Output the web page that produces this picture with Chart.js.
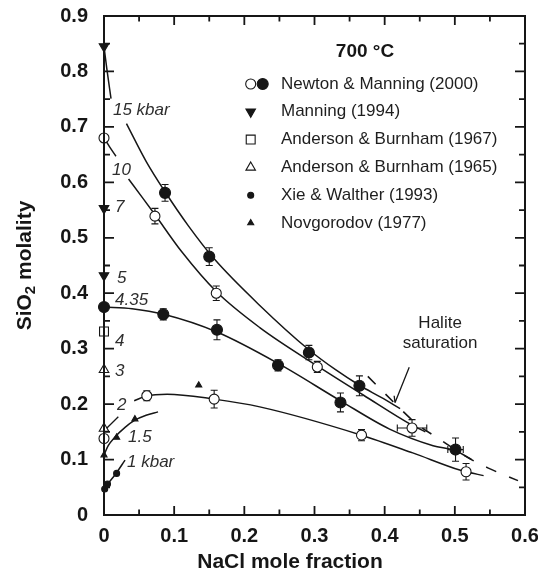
<!DOCTYPE html>
<html><head><meta charset="utf-8">
<script src="https://cdn.jsdelivr.net/npm/chart.js@4.4.1/dist/chart.umd.min.js"></script>
<style>html,body{margin:0;padding:0;background:#fff;}#wrap{width:538px;height:575px;}</style>
</head><body><div id="wrap"><canvas id="c" width="538" height="575"></canvas></div>
<script>
// ---------- data ----------
const xTickValues = [0, 0.1, 0.2, 0.3, 0.4, 0.5, 0.6];
const yTickValues = [0, 0.1, 0.2, 0.3, 0.4, 0.5, 0.6, 0.7, 0.8, 0.9];

// Newton & Manning (2000) open circles
const nmOpenX    = [0, 0.0726, 0.160, 0.304, 0.439, 0, 0.061, 0.157, 0.367, 0.516];
const nmOpenY    = [0.680, 0.539, 0.400, 0.267, 0.157, 0.138, 0.215, 0.209, 0.144, 0.078];
const nmOpenErrY = [0, 0.014, 0.013, 0.010, 0.015, 0, 0.009, 0.016, 0.010, 0.015];
const nmOpenErrX = [0, 0, 0, 0, 0.021, 0, 0, 0, 0, 0];
// Newton & Manning (2000) filled circles
const nmFillX    = [0.087, 0.150, 0.292, 0.364, 0, 0.0845, 0.161, 0.248, 0.337, 0.501];
const nmFillY    = [0.581, 0.466, 0.293, 0.233, 0.375, 0.362, 0.334, 0.270, 0.203, 0.118];
const nmFillErrY = [0.015, 0.016, 0.013, 0.018, 0, 0.010, 0.018, 0.010, 0.017, 0.021];
const nmFillErrX = [0, 0, 0, 0, 0, 0, 0, 0, 0, 0.011];
// Manning (1994)
const manX = [0, 0, 0];
const manY = [0.845, 0.553, 0.432];
// Anderson & Burnham (1967)
const ab67X = [0];
const ab67Y = [0.331];
// Anderson & Burnham (1965)
const ab65X = [0, 0];
const ab65Y = [0.262, 0.156];
// Xie & Walther (1993)
const xwX = [0.001, 0.005, 0.018];
const xwY = [0.047, 0.056, 0.075];
// Novgorodov (1977)
const novX = [0, 0.018, 0.044, 0.135];
const novY = [0.108, 0.140, 0.173, 0.234];

// fitted isobars
const c15aX = [0, 0.004, 0.010];
const c15aY = [0.845, 0.805, 0.751];
const c15bX = [0.032, 0.060, 0.087, 0.120, 0.157, 0.222, 0.292, 0.330, 0.364, 0.395, 0.422];
const c15bY = [0.706, 0.638, 0.583, 0.522, 0.462, 0.378, 0.298, 0.262, 0.234, 0.212, 0.192];
const c10aX = [0, 0.008, 0.017];
const c10aY = [0.680, 0.664, 0.647];
const c10bX = [0.035, 0.055, 0.073, 0.110, 0.160, 0.222, 0.305, 0.370, 0.439, 0.458];
const c10bY = [0.606, 0.572, 0.541, 0.476, 0.403, 0.338, 0.268, 0.216, 0.162, 0.150];
const c435X = [0, 0.040, 0.085, 0.161, 0.250, 0.337, 0.407, 0.469, 0.501, 0.524];
const c435Y = [0.375, 0.372, 0.362, 0.330, 0.272, 0.206, 0.155, 0.125, 0.116, 0.100];
const c2X = [0.043, 0.061, 0.090, 0.157, 0.222, 0.367, 0.440, 0.507, 0.516, 0.541];
const c2Y = [0.206, 0.215, 0.218, 0.209, 0.195, 0.144, 0.112, 0.081, 0.078, 0.071];
const c15X = [0, 0.006, 0.016, 0.030, 0.044, 0.060, 0.077];
const c15Y = [0.108, 0.125, 0.141, 0.158, 0.171, 0.180, 0.186];
const c1X = [0, 0.005, 0.016, 0.030];
const c1Y = [0.045, 0.055, 0.073, 0.099];
// halite saturation (dashed)
const halX = [0.376, 0.410, 0.445, 0.478, 0.518, 0.547, 0.590];
const halY = [0.250, 0.207, 0.165, 0.137, 0.104, 0.085, 0.062];

// isobar labels
const isoText = ['15 kbar', '10', '7', '5', '4.35', '4', '3', '2', '1.5', '1 kbar'];
const isoX = [0.0128, 0.0114, 0.0157, 0.0185, 0.0157, 0.0157, 0.0157, 0.0185, 0.0342, 0.0328];
const isoY = [0.7305, 0.6223, 0.5556, 0.4275, 0.3878, 0.3139, 0.2597, 0.1984, 0.1407, 0.0956];

const legendNames = ['Newton & Manning (2000)', 'Manning (1994)', 'Anderson & Burnham (1967)',
  'Anderson & Burnham (1965)', 'Xie & Walther (1993)', 'Novgorodov (1977)'];

// ---------- helpers ----------
const FONT = "'Liberation Sans', Arial, Helvetica, sans-serif";
const INK = '#161616';
const pts = (xs, ys) => xs.map((x, i) => ({x: x, y: ys[i]}));
function curve(xs, ys, dash) {
  return {type: 'line', data: pts(xs, ys), borderColor: INK, borderWidth: dash ? 1.6 : 1.5,
    borderDash: dash || [], pointRadius: 0, fill: false, cubicInterpolationMode: 'monotone',
    clip: false, order: 5};
}
function markers(xs, ys, style, r, bg, rot) {
  return {type: 'scatter', data: pts(xs, ys), pointStyle: style, pointRadius: r,
    pointBackgroundColor: bg, pointBorderColor: INK, pointBorderWidth: 1.1,
    pointRotation: rot || 0, showLine: false, clip: false, order: 1};
}

const datasets = [
  curve(c15aX, c15aY), curve(c15bX, c15bY), curve(c10aX, c10aY), curve(c10bX, c10bY),
  curve(c435X, c435Y), curve(c2X, c2Y), curve(c15X, c15Y), curve(c1X, c1Y),
  curve(halX, halY, [11, 14]),
  markers(nmOpenX, nmOpenY, 'circle', 5, '#ffffff'),
  markers(nmFillX, nmFillY, 'circle', 5.5, INK),
  markers(manX, manY, 'triangle', 5.5, INK, 180),
  markers(ab67X, ab67Y, 'rect', 6.3, '#ffffff'),
  markers(ab65X, ab65Y, 'triangle', 5.5, '#ffffff'),
  markers(xwX, xwY, 'circle', 3, INK),
  markers(novX, novY, 'triangle', 3.5, INK)
];

const decor = {
  id: 'decor',
  beforeDatasetsDraw(chart) {
    const {ctx, scales: {x, y}} = chart;
    ctx.save();
    ctx.strokeStyle = INK; ctx.lineWidth = 1.1;
    const bars = (xs, ys, ey, ex) => {
      xs.forEach((xv, i) => {
        const px = x.getPixelForValue(xv), py = y.getPixelForValue(ys[i]);
        if (ey[i]) {
          const t = y.getPixelForValue(ys[i] + ey[i]), b = y.getPixelForValue(ys[i] - ey[i]);
          ctx.beginPath(); ctx.moveTo(px, t); ctx.lineTo(px, b);
          ctx.moveTo(px - 3.5, t); ctx.lineTo(px + 3.5, t);
          ctx.moveTo(px - 3.5, b); ctx.lineTo(px + 3.5, b); ctx.stroke();
        }
        if (ex[i]) {
          const l = x.getPixelForValue(xv - ex[i]), r = x.getPixelForValue(xv + ex[i]);
          ctx.beginPath(); ctx.moveTo(l, py); ctx.lineTo(r, py);
          ctx.moveTo(l, py - 3.5); ctx.lineTo(l, py + 3.5);
          ctx.moveTo(r, py - 3.5); ctx.lineTo(r, py + 3.5); ctx.stroke();
        }
      });
    };
    bars(nmOpenX, nmOpenY, nmOpenErrY, nmOpenErrX);
    bars(nmFillX, nmFillY, nmFillErrY, nmFillErrX);
    ctx.restore();
  },
  afterDatasetsDraw(chart) {
    const {ctx, chartArea: a, scales: {x, y}} = chart;
    ctx.save();
    // frame
    ctx.strokeStyle = INK; ctx.lineWidth = 2;
    ctx.strokeRect(a.left, a.top, a.right - a.left, a.bottom - a.top);
    // inward ticks
    ctx.lineWidth = 1.8;
    ctx.beginPath();
    for (let k = 0; k <= 12; k++) {
      const v = k * 0.05, px = x.getPixelForValue(v), len = k % 2 === 0 ? 9 : 5.5;
      ctx.moveTo(px, a.bottom); ctx.lineTo(px, a.bottom - len);
      ctx.moveTo(px, a.top); ctx.lineTo(px, a.top + len);
    }
    for (let k = 0; k <= 18; k++) {
      const v = k * 0.05, py = y.getPixelForValue(v), len = k % 2 === 0 ? 10 : 6;
      ctx.moveTo(a.left, py); ctx.lineTo(a.left + len, py);
      ctx.moveTo(a.right, py); ctx.lineTo(a.right - len, py);
    }
    ctx.stroke();

    // leader line and halite arrow
    ctx.lineWidth = 1.3;
    ctx.beginPath();
    ctx.moveTo(x.getPixelForValue(0.0204), y.getPixelForValue(0.1773));
    ctx.lineTo(x.getPixelForValue(0.0038), y.getPixelForValue(0.1564));
    const ax0 = x.getPixelForValue(0.435), ay0 = y.getPixelForValue(0.2664);
    const ax1 = x.getPixelForValue(0.4147), ay1 = y.getPixelForValue(0.2026);
    ctx.moveTo(ax0, ay0); ctx.lineTo(ax1, ay1);
    const ang = Math.atan2(ay1 - ay0, ax1 - ax0);
    ctx.moveTo(ax1, ay1); ctx.lineTo(ax1 - 7 * Math.cos(ang - 0.5), ay1 - 7 * Math.sin(ang - 0.5));
    ctx.stroke();

    // isobar labels
    ctx.fillStyle = '#2e2e2e';
    ctx.font = 'italic 17px ' + FONT;
    ctx.textAlign = 'left'; ctx.textBaseline = 'middle';
    isoText.forEach((t, i) => ctx.fillText(t, x.getPixelForValue(isoX[i]), y.getPixelForValue(isoY[i])));

    // halite label
    ctx.fillStyle = '#1e1e1e';
    ctx.font = '17px ' + FONT; ctx.textAlign = 'center';
    ctx.fillText('Halite', x.getPixelForValue(0.479), y.getPixelForValue(0.3463));
    ctx.fillText('saturation', x.getPixelForValue(0.479), y.getPixelForValue(0.310));

    // legend
    ctx.font = 'bold 19px ' + FONT; ctx.fillStyle = INK;
    ctx.fillText('700 °C', 365, 52);
    ctx.font = '17px ' + FONT; ctx.textAlign = 'left';
    const rows = [84, 111.8, 139.6, 167.4, 195.2, 223];
    legendNames.forEach((t, i) => { ctx.fillStyle = '#1e1e1e'; ctx.fillText(t, 281, rows[i]); });
    ctx.strokeStyle = INK;
    const mk = (style, px, py, r, bg, rot) => {
      ctx.fillStyle = bg; ctx.lineWidth = 1.1;
      Chart.helpers.drawPoint(ctx, {pointStyle: style, rotation: rot || 0, radius: r, borderWidth: 1.1}, px, py);
    };
    mk('circle', 250.7, rows[0], 5, '#ffffff');
    mk('circle', 262.7, rows[0], 5.5, INK);
    mk('triangle', 250.7, rows[1], 5.5, INK, 180);
    mk('rect', 250.7, rows[2], 6.3, '#ffffff');
    mk('triangle', 250.7, rows[3], 5.5, '#ffffff');
    mk('circle', 250.7, rows[4], 3, INK);
    mk('triangle', 250.7, rows[5], 3.5, INK);

    // axis titles
    ctx.fillStyle = INK; ctx.textAlign = 'center'; ctx.textBaseline = 'middle';
    ctx.font = 'bold 21px ' + FONT;
    ctx.fillText('NaCl mole fraction', 290, 562);
    ctx.save();
    ctx.translate(25, (a.top + a.bottom) / 2);
    ctx.rotate(-Math.PI / 2);
    const big = 'bold 21px ' + FONT, small = 'bold 15px ' + FONT;
    ctx.font = big; const w1 = ctx.measureText('SiO').width, w3 = ctx.measureText(' molality').width;
    ctx.font = small; const w2 = ctx.measureText('2').width;
    let sx = -(w1 + w2 + w3) / 2;
    ctx.textAlign = 'left';
    ctx.font = big; ctx.fillText('SiO', sx, 0); sx += w1;
    ctx.font = small; ctx.fillText('2', sx, 6); sx += w2;
    ctx.font = big; ctx.fillText(' molality', sx, 0);
    ctx.restore();
    ctx.restore();
  }
};

const tickFmt = v => (Math.abs(v) < 1e-9 ? '0' : Number(v).toFixed(1));

new Chart(document.getElementById('c'), {
  type: 'scatter',
  data: {datasets: datasets},
  options: {
    responsive: false, animation: false, devicePixelRatio: 1,
    layout: {padding: {left: 0, right: 13, top: 16, bottom: 0}},
    plugins: {legend: {display: false}, tooltip: {enabled: false}},
    scales: {
      x: {type: 'linear', min: 0, max: 0.6,
        afterBuildTicks: s => { s.ticks = xTickValues.map(v => ({value: v})); },
        grid: {display: false, drawTicks: false}, border: {display: false},
        ticks: {font: {family: FONT, size: 20, weight: 'bold'}, color: INK, padding: 9, maxRotation: 0,
          autoSkip: false, callback: tickFmt},
        afterFit: s => { s.height = 60; s.paddingLeft = 0; s.paddingRight = 0; }},
      y: {type: 'linear', min: 0, max: 0.9,
        afterBuildTicks: s => { s.ticks = yTickValues.map(v => ({value: v})); },
        grid: {display: false, drawTicks: false}, border: {display: false},
        ticks: {font: {family: FONT, size: 20, weight: 'bold'}, color: INK, padding: 16,
          autoSkip: false, callback: tickFmt},
        afterFit: s => { s.width = 104; s.paddingTop = 0; s.paddingBottom = 0; }}
    }
  },
  plugins: [decor]
});
</script></body></html>
